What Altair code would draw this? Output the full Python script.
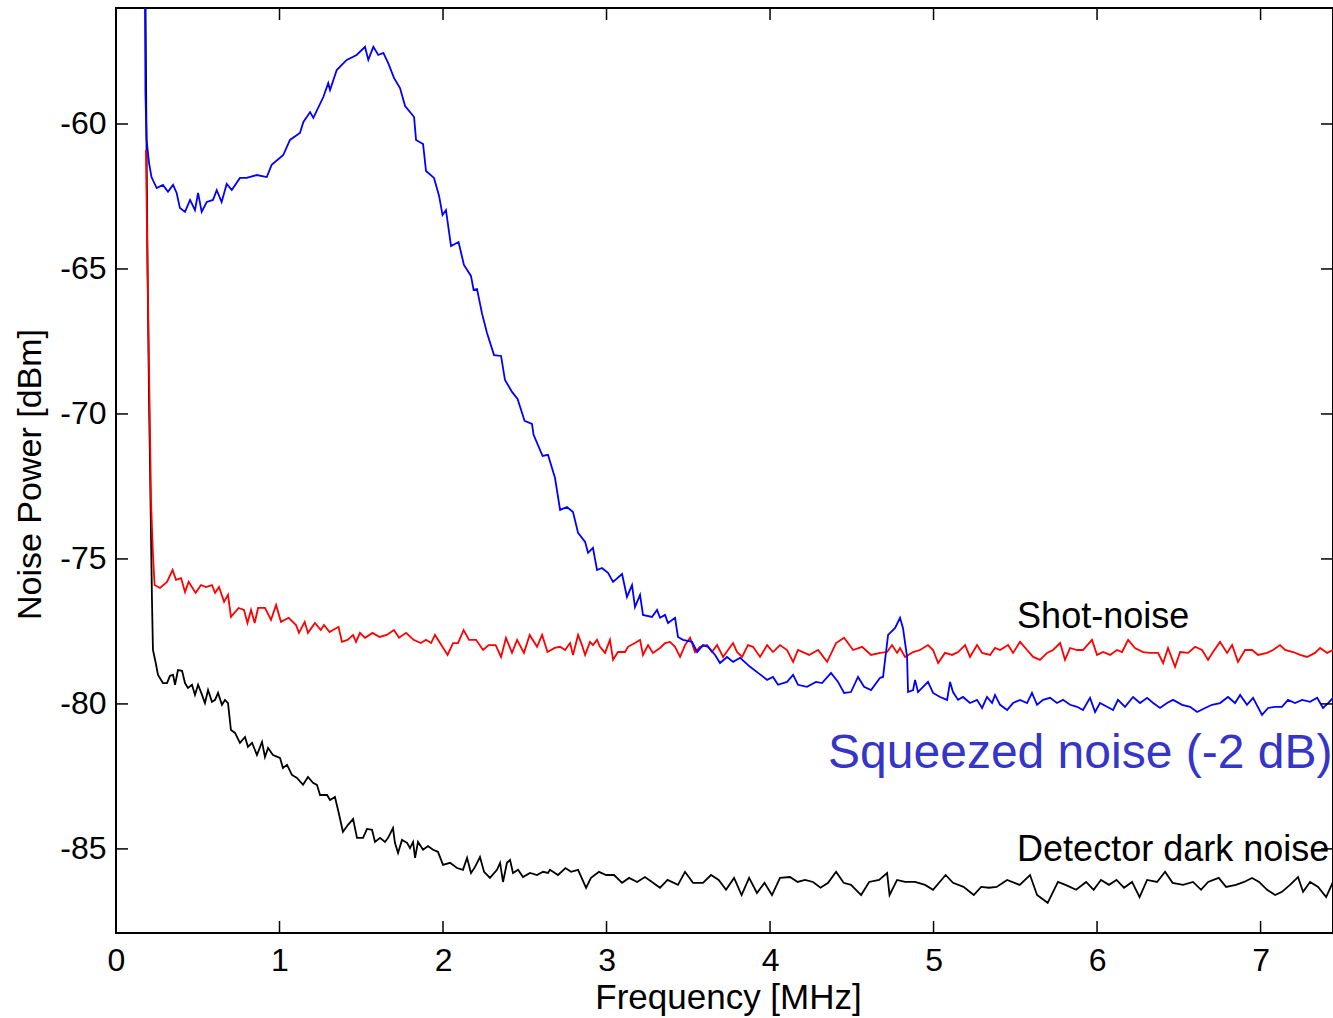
import altair as alt
import pandas as pd

# ---------------- data ----------------
blue_f = [0.177, 0.180, 0.187, 0.202, 0.217, 0.249, 0.287, 0.318, 0.349, 0.371,
          0.391, 0.422, 0.453, 0.483, 0.502, 0.524, 0.555, 0.593, 0.616, 0.646,
          0.677, 0.708, 0.758, 0.799, 0.861, 0.922, 0.952, 1.023, 1.064, 1.125,
          1.146, 1.187, 1.207, 1.268, 1.298, 1.309, 1.350, 1.411, 1.472, 1.523,
          1.543, 1.574, 1.604, 1.635, 1.665, 1.700, 1.737, 1.768, 1.823, 1.835,
          1.878, 1.896, 1.945, 1.976, 1.997, 2.018, 2.049, 2.095, 2.128, 2.171,
          2.187, 2.208, 2.239, 2.269, 2.312, 2.355, 2.379, 2.422, 2.456, 2.499,
          2.544, 2.554, 2.609, 2.642, 2.685, 2.716, 2.758, 2.795, 2.826, 2.869,
          2.887, 2.917, 2.942, 2.972, 3.009, 3.040, 3.095, 3.125, 3.156, 3.174,
          3.205, 3.223, 3.278, 3.309, 3.327, 3.358, 3.376, 3.419, 3.437, 3.468,
          3.523, 3.554, 3.590, 3.621, 3.664, 3.694, 3.737, 3.774, 3.817, 3.878,
          3.927, 3.982, 4.018, 4.049, 4.104, 4.141, 4.171, 4.226, 4.281, 4.318,
          4.373, 4.416, 4.453, 4.495, 4.538, 4.575, 4.618, 4.673, 4.691, 4.722,
          4.765, 4.795, 4.813, 4.838, 4.844, 4.875, 4.887, 4.905, 4.936, 4.966,
          4.997, 5.040, 5.083, 5.101, 5.119, 5.150, 5.180, 5.223, 5.266, 5.297,
          5.327, 5.358, 5.376, 5.407, 5.450, 5.486, 5.529, 5.572, 5.602, 5.633,
          5.670, 5.713, 5.755, 5.792, 5.835, 5.878, 5.914, 5.957, 5.988, 6.018,
          6.061, 6.098, 6.128, 6.171, 6.220, 6.263, 6.306, 6.343, 6.385, 6.428,
          6.465, 6.520, 6.569, 6.612, 6.661, 6.703, 6.752, 6.801, 6.844, 6.875,
          6.917, 6.954, 7.009, 7.046, 7.089, 7.131, 7.168, 7.211, 7.254, 7.303,
          7.346, 7.382, 7.413, 7.443]
blue_db = [-55.0, -58.93, -60.55, -61.34, -61.83, -62.21, -62.10, -62.34, -62.10, -62.38,
           -62.90, -63.03, -62.62, -62.97, -62.38, -63.03, -62.69, -62.62, -62.28, -62.69,
           -62.07, -62.28, -61.86, -61.86, -61.76, -61.83, -61.41, -61.07, -60.55, -60.31,
           -59.93, -59.59, -59.79, -59.07, -58.59, -58.83, -58.14, -57.79, -57.62, -57.34,
           -57.79, -57.34, -57.62, -57.55, -57.90, -58.41, -58.76, -59.38, -59.76, -60.55,
           -60.69, -61.62, -61.86, -62.48, -63.14, -62.97, -64.21, -64.07, -64.86, -65.24,
           -65.72, -65.69, -66.55, -67.21, -67.97, -68.00, -68.83, -69.24, -69.48, -70.24,
           -70.34, -70.72, -71.45, -71.41, -72.21, -73.31, -73.21, -73.38, -74.10, -74.41,
           -74.79, -74.62, -75.38, -75.31, -75.48, -75.79, -75.52, -76.31, -75.90, -76.66,
           -76.24, -76.93, -77.00, -76.76, -77.03, -76.93, -77.21, -77.03, -77.69, -77.79,
           -77.86, -78.21, -77.97, -78.03, -78.31, -78.59, -78.38, -78.55, -78.41, -78.72,
           -78.93, -79.17, -79.07, -79.34, -79.24, -79.00, -79.34, -79.41, -79.24, -79.28,
           -78.93, -79.24, -79.62, -79.59, -79.07, -79.41, -79.52, -79.10, -79.07, -77.62,
           -77.38, -77.03, -77.38, -78.38, -79.59, -79.52, -79.17, -79.59, -79.41, -79.24,
           -79.62, -79.76, -79.86, -79.24, -79.59, -79.86, -79.76, -79.97, -79.86, -80.14,
           -79.76, -79.97, -79.69, -80.03, -80.21, -79.97, -79.86, -79.97, -79.62, -80.03,
           -79.86, -79.79, -79.97, -79.86, -80.03, -80.10, -80.21, -79.79, -80.28, -79.97,
           -80.10, -80.21, -79.86, -80.10, -79.76, -79.97, -79.79, -79.97, -80.14, -79.97,
           -79.86, -80.03, -80.10, -80.28, -80.14, -80.03, -79.97, -79.76, -79.97, -79.69,
           -80.03, -79.79, -80.38, -80.14, -80.10, -80.10, -79.86, -79.97, -79.86, -79.93,
           -79.79, -80.14, -79.97, -79.79]

red_f = [0.183, 0.193, 0.205, 0.214, 0.226, 0.236, 0.269, 0.312, 0.346, 0.367,
         0.398, 0.422, 0.444, 0.487, 0.520, 0.550, 0.587, 0.606, 0.630, 0.661,
         0.685, 0.703, 0.750, 0.783, 0.804, 0.826, 0.848, 0.869, 0.911, 0.948,
         0.979, 1.009, 1.056, 1.101, 1.119, 1.154, 1.174, 1.217, 1.252, 1.272,
         1.306, 1.361, 1.382, 1.416, 1.450, 1.468, 1.492, 1.523, 1.569, 1.612,
         1.656, 1.700, 1.731, 1.774, 1.820, 1.864, 1.896, 1.927, 1.951, 1.982,
         2.028, 2.061, 2.092, 2.126, 2.159, 2.202, 2.245, 2.279, 2.322, 2.355,
         2.385, 2.422, 2.453, 2.495, 2.530, 2.575, 2.606, 2.639, 2.683, 2.716,
         2.746, 2.777, 2.795, 2.826, 2.850, 2.869, 2.899, 2.917, 2.942, 2.960,
         2.991, 3.021, 3.040, 3.070, 3.113, 3.131, 3.174, 3.205, 3.223, 3.254,
         3.284, 3.327, 3.358, 3.388, 3.419, 3.450, 3.480, 3.511, 3.541, 3.572,
         3.615, 3.645, 3.676, 3.713, 3.743, 3.774, 3.798, 3.829, 3.865, 3.896,
         3.939, 3.982, 4.018, 4.061, 4.104, 4.141, 4.171, 4.239, 4.294, 4.349,
         4.404, 4.453, 4.508, 4.563, 4.618, 4.673, 4.716, 4.746, 4.777, 4.795,
         4.826, 4.875, 4.917, 4.966, 4.997, 5.028, 5.070, 5.113, 5.150, 5.193,
         5.223, 5.266, 5.297, 5.346, 5.376, 5.407, 5.456, 5.486, 5.529, 5.572,
         5.609, 5.651, 5.694, 5.731, 5.774, 5.804, 5.835, 5.878, 5.914, 5.969,
         6.000, 6.037, 6.080, 6.122, 6.153, 6.190, 6.232, 6.281, 6.324, 6.373,
         6.404, 6.434, 6.477, 6.508, 6.557, 6.599, 6.642, 6.679, 6.709, 6.752,
         6.795, 6.826, 6.862, 6.905, 6.948, 6.985, 7.040, 7.076, 7.119, 7.150,
         7.199, 7.242, 7.284, 7.333, 7.364, 7.407, 7.443]
red_db = [-60.90, -65.03, -69.52, -72.97, -74.86, -75.90, -76.00, -75.79, -75.38, -75.72,
          -75.66, -76.14, -75.79, -76.17, -75.90, -75.97, -75.90, -76.17, -75.97, -76.48,
          -76.24, -77.00, -76.69, -76.76, -77.21, -76.76, -77.21, -76.69, -76.69, -77.10,
          -76.59, -77.17, -77.03, -77.28, -77.55, -77.17, -77.55, -77.21, -77.45, -77.28,
          -77.52, -77.34, -77.86, -77.79, -77.62, -77.86, -77.55, -77.72, -77.55, -77.69,
          -77.62, -77.45, -77.72, -77.55, -77.79, -77.90, -77.79, -77.90, -77.62, -77.90,
          -78.31, -77.90, -77.90, -77.45, -77.79, -77.79, -78.14, -77.97, -77.97, -78.38,
          -77.72, -78.24, -77.79, -78.24, -77.62, -78.03, -77.62, -78.21, -78.07, -78.03,
          -78.14, -77.90, -78.31, -77.62, -77.97, -78.31, -77.86, -77.97, -77.79, -78.03,
          -78.24, -77.79, -78.48, -78.21, -78.21, -78.03, -77.90, -77.79, -78.31, -77.97,
          -78.24, -78.07, -77.90, -77.86, -78.03, -78.38, -77.97, -77.72, -78.21, -78.03,
          -77.97, -78.21, -77.97, -78.38, -78.14, -77.90, -78.21, -78.38, -77.97, -78.03,
          -78.38, -77.97, -78.21, -77.97, -78.14, -78.55, -78.14, -78.31, -78.14, -78.55,
          -77.90, -77.72, -78.14, -78.03, -78.31, -78.24, -78.21, -77.97, -78.24, -78.07,
          -78.38, -78.21, -78.14, -77.97, -78.14, -78.59, -78.24, -78.31, -78.21, -77.97,
          -78.38, -77.97, -78.24, -78.31, -78.07, -78.14, -77.97, -78.24, -77.86, -78.14,
          -78.38, -78.48, -78.24, -78.14, -77.90, -78.48, -78.07, -78.14, -78.14, -77.79,
          -78.31, -78.21, -78.31, -78.14, -78.21, -77.79, -78.07, -78.21, -78.24, -78.24,
          -78.59, -78.07, -78.72, -78.21, -78.24, -78.03, -78.14, -78.48, -78.21, -77.86,
          -78.24, -77.97, -78.55, -78.14, -78.14, -78.31, -78.24, -78.14, -77.97, -78.14,
          -78.21, -78.31, -78.38, -78.24, -78.07, -78.24, -78.14]

black_f = [0.180, 0.187, 0.193, 0.202, 0.211, 0.220, 0.226, 0.243, 0.257, 0.287,
           0.312, 0.330, 0.349, 0.361, 0.379, 0.404, 0.422, 0.440, 0.465, 0.483,
           0.502, 0.526, 0.544, 0.563, 0.587, 0.606, 0.624, 0.648, 0.667, 0.685,
           0.703, 0.728, 0.758, 0.789, 0.807, 0.832, 0.862, 0.893, 0.911, 0.930,
           0.960, 1.003, 1.021, 1.046, 1.076, 1.107, 1.144, 1.174, 1.205, 1.229,
           1.248, 1.291, 1.309, 1.339, 1.358, 1.388, 1.419, 1.450, 1.474, 1.511,
           1.535, 1.566, 1.584, 1.615, 1.645, 1.664, 1.694, 1.706, 1.725, 1.749,
           1.780, 1.798, 1.817, 1.829, 1.847, 1.878, 1.908, 1.939, 1.969, 2.000,
           2.043, 2.086, 2.122, 2.147, 2.171, 2.196, 2.226, 2.251, 2.287, 2.330,
           2.349, 2.367, 2.391, 2.410, 2.428, 2.459, 2.489, 2.532, 2.575, 2.612,
           2.642, 2.654, 2.703, 2.749, 2.783, 2.826, 2.875, 2.905, 2.954, 2.997,
           3.046, 3.095, 3.138, 3.187, 3.235, 3.278, 3.327, 3.373, 3.437, 3.480,
           3.529, 3.590, 3.639, 3.686, 3.731, 3.780, 3.826, 3.872, 3.920, 3.966,
           4.012, 4.061, 4.122, 4.169, 4.214, 4.263, 4.309, 4.355, 4.404, 4.450,
           4.495, 4.557, 4.606, 4.667, 4.716, 4.731, 4.777, 4.826, 4.887, 4.948,
           4.997, 5.074, 5.119, 5.183, 5.246, 5.291, 5.339, 5.386, 5.450, 5.527,
           5.590, 5.633, 5.698, 5.761, 5.807, 5.872, 5.933, 5.979, 6.024, 6.073,
           6.119, 6.165, 6.214, 6.260, 6.306, 6.367, 6.416, 6.462, 6.526, 6.587,
           6.636, 6.679, 6.744, 6.789, 6.850, 6.899, 6.948, 6.991, 7.040, 7.089,
           7.131, 7.180, 7.229, 7.260, 7.303, 7.352, 7.401, 7.443]
black_db = [-55.5, -60.90, -65.03, -69.52, -72.97, -76.41, -78.14, -78.59, -79.00, -79.28,
            -79.28, -79.03, -79.00, -79.34, -78.83, -78.86, -79.28, -79.45, -79.34, -79.69,
            -79.34, -79.69, -79.97, -79.52, -79.93, -79.86, -79.62, -80.03, -79.86, -79.97,
            -80.90, -81.00, -81.34, -81.14, -81.48, -81.34, -81.76, -81.31, -81.83, -81.52,
            -81.76, -81.86, -82.21, -82.10, -82.45, -82.55, -82.79, -82.52, -82.72, -82.79,
            -83.14, -83.14, -83.31, -83.21, -83.66, -84.41, -84.17, -83.97, -84.62, -84.62,
            -84.31, -84.34, -84.76, -84.62, -84.76, -84.62, -84.28, -84.79, -85.14, -84.69,
            -84.79, -84.97, -84.76, -85.31, -84.76, -85.03, -84.90, -85.03, -85.10, -85.55,
            -85.48, -85.66, -85.72, -85.31, -85.83, -85.62, -85.28, -85.79, -86.00, -85.72,
            -85.48, -86.14, -85.48, -85.38, -85.83, -85.72, -85.97, -85.83, -85.90, -85.79,
            -85.83, -85.72, -85.90, -85.66, -85.79, -85.72, -86.34, -86.00, -85.79, -85.90,
            -85.90, -86.17, -86.00, -86.14, -85.97, -86.14, -86.34, -86.07, -86.24, -85.79,
            -86.17, -86.17, -85.90, -86.07, -86.41, -86.00, -86.59, -86.00, -86.52, -86.17,
            -86.59, -86.00, -85.97, -86.14, -86.07, -86.14, -86.34, -86.17, -85.79, -86.17,
            -86.24, -86.59, -86.14, -86.07, -85.83, -86.59, -86.07, -86.14, -86.14, -86.24,
            -86.41, -85.90, -86.17, -86.31, -86.59, -86.31, -86.34, -86.31, -86.07, -86.24,
            -85.90, -86.59, -86.86, -86.14, -86.24, -86.41, -86.14, -86.41, -86.07, -86.24,
            -86.07, -86.34, -86.14, -86.66, -86.07, -86.14, -85.79, -86.17, -86.24, -86.14,
            -86.41, -86.14, -86.00, -86.31, -86.24, -86.14, -86.00, -86.14, -86.41, -86.59,
            -86.48, -86.24, -85.97, -86.48, -86.14, -86.31, -86.66, -86.14]

x_ticks = [0, 1, 2, 3, 4, 5, 6, 7]
y_ticks = [-85, -80, -75, -70, -65, -60]

ann_text = ["Shot-noise", "Squeezed noise (-2 dB)", "Detector dark noise"]
ann_f = [5.511, 4.355, 5.511]
ann_db = [-77.38, -82.21, -85.41]
ann_color = ["#000000", "#3535c8", "#000000"]
ann_size = [36, 48, 36]

assert len(blue_f) == len(blue_db)
assert len(red_f) == len(red_db)
assert len(black_f) == len(black_db)

# ---------------- chart ----------------
W, H = 1217, 925
FONT = "Liberation Sans"

xscale = alt.Scale(domain=[0, 7.443], nice=False, zero=False)
yscale = alt.Scale(domain=[-87.9, -56.0], nice=False, zero=False)

xaxis = alt.Axis(values=x_ticks, title="Frequency [MHz]", grid=False, domain=False,
                 ticks=False, labelFontSize=32, labelPadding=12, labelFont=FONT,
                 labelColor="black", labelFlush=False, labelOverlap=False,
                 titleFont=FONT, titleFontSize=35,
                 titleFontWeight="normal", titleColor="black",
                 titleX=612, titleY=75, titleBaseline="alphabetic", titleAlign="center")
yaxis = alt.Axis(values=y_ticks, title="Noise Power [dBm]", grid=False, domain=False,
                 ticks=False, labelFontSize=32, labelPadding=10, labelFont=FONT,
                 labelColor="black", labelExpr="'' + datum.value",
                 labelFlush=False, labelOverlap=False,
                 titleFont=FONT, titleFontSize=34, titleFontWeight="normal",
                 titleColor="black", titleAngle=-90, titleX=-76, titleY=466,
                 titleBaseline="alphabetic", titleAlign="center")

X = alt.X("f:Q", scale=xscale, axis=xaxis)
Y = alt.Y("p:Q", scale=yscale, axis=yaxis)


def series_df(fs, ds):
    return pd.DataFrame({"f": fs, "p": ds, "i": list(range(len(fs)))})


def line_layer(fs, ds, color):
    return alt.Chart(series_df(fs, ds)).mark_line(
        color=color, strokeWidth=1.8, clip=True
    ).encode(x=X, y=Y, order="i:Q")


black_line = line_layer(black_f, black_db, "#000000")
red_line = line_layer(red_f, red_db, "#ff0000")
blue_line = line_layer(blue_f, blue_db, "#0000ff")

xt = pd.DataFrame({"f": x_ticks})
yt = pd.DataFrame({"p": y_ticks})
tick_style = dict(color="black", strokeWidth=1.5)
xt_bottom = alt.Chart(xt).mark_rule(**tick_style).encode(
    x=X, y=alt.value(H), y2=alt.value(H - 12))
xt_top = alt.Chart(xt).mark_rule(**tick_style).encode(
    x=X, y=alt.value(0), y2=alt.value(12))
yt_left = alt.Chart(yt).mark_rule(**tick_style).encode(
    y=Y, x=alt.value(0), x2=alt.value(12))
yt_right = alt.Chart(yt).mark_rule(**tick_style).encode(
    y=Y, x=alt.value(W), x2=alt.value(W - 12))

ann = pd.DataFrame({"label": ann_text, "f": ann_f, "p": ann_db,
                    "color": ann_color, "size": ann_size})
labels = alt.Chart(ann).mark_text(align="left", baseline="alphabetic", font=FONT).encode(
    x=X, y=Y,
    text="label:N",
    color=alt.Color("color:N", scale=None),
    size=alt.Size("size:Q", scale=None),
)

chart = alt.layer(
    black_line, red_line, blue_line, xt_bottom, xt_top, yt_left, yt_right, labels
).properties(
    width=W, height=H,
    autosize=alt.AutoSizeParams(type="none"),
    padding={"left": 116, "top": 8, "right": 0, "bottom": 85},
    background="white",
).configure_view(
    stroke="black", strokeWidth=2
)

chart.save("out.html", embed_options={"renderer": "svg", "actions": False})
